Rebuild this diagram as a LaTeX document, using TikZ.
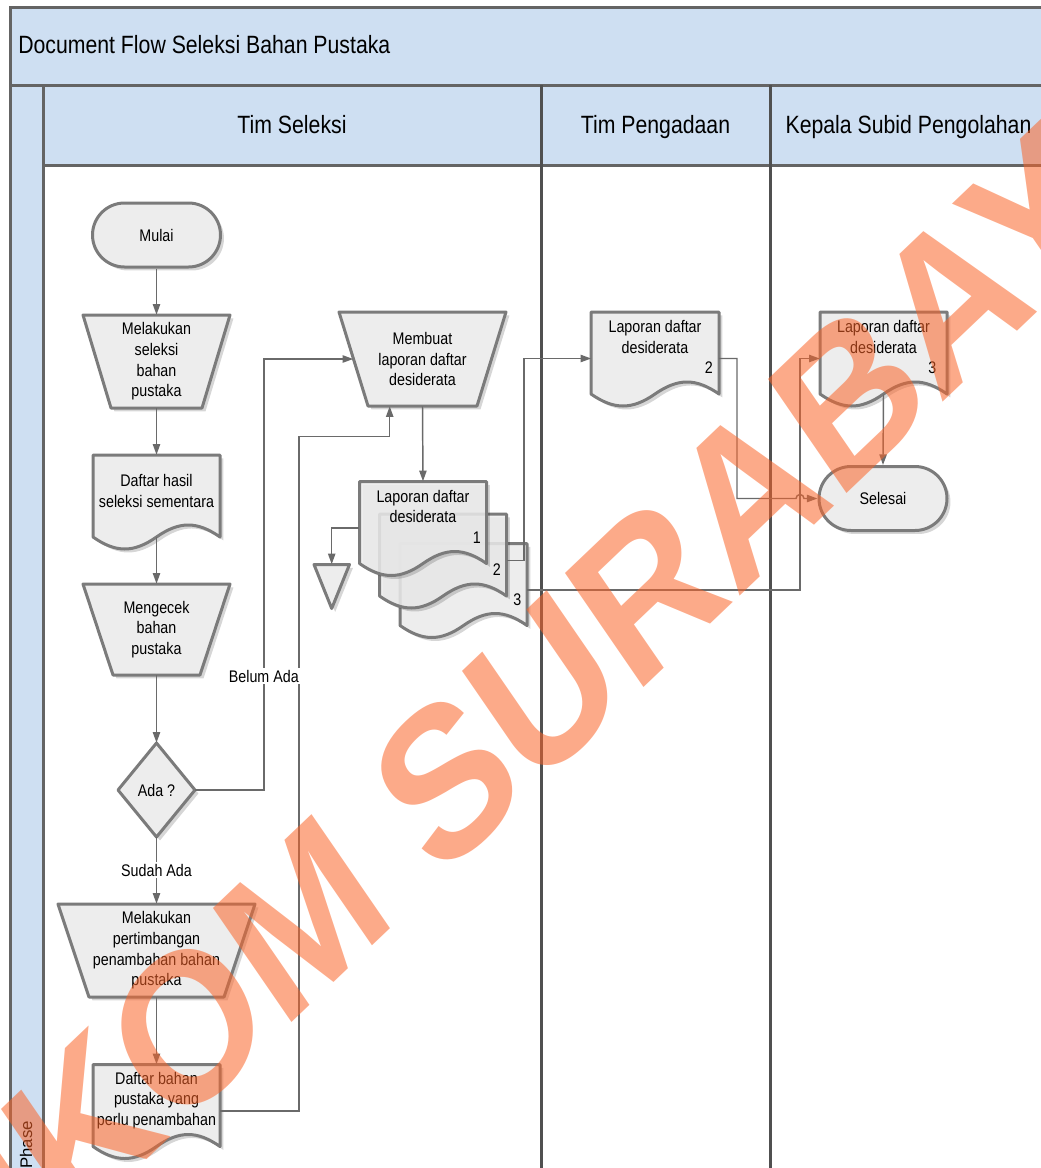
\documentclass[tikz,border=0pt]{standalone}
\usepackage{fontspec}
\setmainfont{Liberation Sans}[FakeStretch=0.85]
\newfontfamily\plainfont{Liberation Sans}
\newfontfamily\wmfamily{Liberation Sans}
\usetikzlibrary{calc,shadows,arrows.meta}
\definecolor{bandc}{RGB}{206,223,242}
\definecolor{framec}{RGB}{100,100,100}
\definecolor{lanec}{RGB}{80,80,80}
\definecolor{shpfill}{RGB}{237,237,237}
\definecolor{shpline}{RGB}{123,123,123}
\definecolor{connc}{RGB}{106,106,106}
\definecolor{wmc}{RGB}{250,100,40}
\newcommand\nodefont{\fontsize{12.6pt}{15.5pt}\selectfont}
\newcommand\headfont{\fontsize{18.75pt}{22pt}\selectfont}
\newcommand\pxu[1]{#1*0.75pt}
% trapezoid: cx, cy, top width, bottom width, height, style
\newcommand\trapz[6]{\path[#6] ({#1-#3/2},{#2-#5/2}) -- ({#1+#3/2},{#2-#5/2}) -- ({#1+#4/2},{#2+#5/2}) -- ({#1-#4/2},{#2+#5/2}) -- cycle;}
% document: left, top, width, style
\newcommand\docz[4]{\path[#4] (#1,#2) -- ({#1+#3},#2) -- ({#1+#3},{#2+82}) .. controls ({#1+0.82*#3},{#2+66}) and ({#1+0.68*#3},{#2+66}) .. ({#1+0.5*#3},{#2+82}) .. controls ({#1+0.32*#3},{#2+98}) and ({#1+0.18*#3},{#2+98}) .. (#1,{#2+82}) -- cycle;}
\begin{document}
\begin{tikzpicture}[x=0.75pt,y=-0.75pt,
  shp/.style={fill=shpfill, draw=shpline, line width=2.25pt, line join=round},
  shd/.style={drop shadow={shadow xshift=2.6pt, shadow yshift=-2.6pt, fill=black, opacity=0.16}},
  anchorbox/.style={rectangle, draw=none, fill=none, inner sep=0pt},
  txt/.style={font=\nodefont, align=center},
  docnode/.style={anchorbox, minimum width=95.25pt, minimum height=69.75pt},
  dtxt/.style={font=\nodefont, align=center, inner sep=0pt},
  numtxt/.style={font=\nodefont, inner sep=0pt},
  term/.style={shp, shd, rectangle, rounded corners=24pt, minimum width=96pt, minimum height=48pt, font=\nodefont, inner sep=0pt},
  conn/.style={draw=connc, line width=1.1pt, -{Triangle[length=8pt,width=5.5pt]}},
  lbl/.style={font=\nodefont, fill=white, inner sep=1.5pt},
  head/.style={font=\headfont, inner sep=0pt, anchor=base},
  framel/.style={draw=framec, line width=2.25pt},
  lanel/.style={draw=lanec, line width=2.25pt}]
\useasboundingbox (0,0) rectangle (1041,1168);
\clip (0,0) rectangle (1041,1168);
% ---------- pool and lanes ----------
\fill[bandc] (10,7) rectangle (1048,85);
\fill[bandc] (10,85) rectangle (43,1180);
\fill[bandc] (43,85) rectangle (1048,165);
\draw[framel] (10,1180) -- (10,7) -- (1048,7);
\draw[framel] (10,85) -- (1048,85);
\draw[framel] (43,165) -- (1048,165);
\draw[framel] (43,85) -- (43,1180);
\draw[lanel] (541,85) -- (541,1180);
\draw[lanel] (770,85) -- (770,1180);
\node[head, anchor=base west] (title) at (18,53.5) {Document Flow Seleksi Bahan Pustaka};
\node[head] (h1) at (292,133.5) {Tim Seleksi};
\node[head] (h2) at (655.5,133.5) {Tim Pengadaan};
\node[head] (h3) at (908.5,133.5) {Kepala Subid Pengolahan};
\node[font={\plainfont\nodefont}, rotate=90, anchor=base west, inner sep=0pt] (phase) at (32,1169) {Phase};
% ---------- shapes ----------
\node[term] (mulai) at (156.5,235) {Mulai};
\trapz{156.5}{361.5}{147}{91}{93}{shp,shd}
\node[anchorbox, txt, minimum width=\pxu{147}, minimum height=\pxu{93}] (sel) at (156.5,361.5) {Melakukan\\seleksi\\bahan\\pustaka};
\docz{93}{455}{127}{shp,shd}
\node[docnode, label={[dtxt, yshift=7.9pt]center:{Daftar hasil\\seleksi sementara}}] (dhasil) at (156.5,501.5) {};
\trapz{156.5}{629.5}{147}{87}{91}{shp,shd}
\node[anchorbox, txt, minimum width=\pxu{147}, minimum height=\pxu{91}] (cek) at (156.5,629.5) {Mengecek\\bahan\\pustaka};
\path[shp,shd] (156.5,743) -- (195,790) -- (156.5,837) -- (118,790) -- cycle;
\node[anchorbox, txt, minimum width=\pxu{77}, minimum height=\pxu{94}] (ada) at (156.5,790) {Ada ?};
\trapz{156.5}{950.5}{197}{135}{93}{shp,shd}
\node[anchorbox, txt, minimum width=\pxu{197}, minimum height=\pxu{93}] (pert) at (156.5,950.5) {Melakukan\\pertimbangan\\penambahan bahan\\pustaka};
\docz{93}{1064.5}{127}{shp,shd}
\node[docnode, label={[dtxt, yshift=7.9pt]center:{Daftar bahan\\pustaka yang\\perlu penambahan}}] (dbahan) at (156.5,1111) {};
\trapz{422.5}{359}{167}{109}{94}{shp,shd}
\node[anchorbox, txt, minimum width=\pxu{167}, minimum height=\pxu{94}] (membuat) at (422.5,359) {Membuat\\laporan daftar\\desiderata};
% multiple documents
\docz{400}{543.5}{127}{shp,shd}
\docz{379.5}{514}{127}{shp,shd,fill opacity=0.85}
\docz{359.5}{481.5}{127}{shp,shd,fill opacity=0.85}
\node[docnode, label={[dtxt, yshift=16.1pt]center:{Laporan daftar\\desiderata}}] (ldoc1) at (423,528) {};
\node[docnode] (ldoc2) at (443,560.5) {};
\node[docnode] (ldoc3) at (463.5,590) {};
\node[numtxt] (n1) at ($(ldoc1.north east)+(-10,56)$) {1};
\node[numtxt] (n2) at ($(ldoc2.north east)+(-10,56)$) {2};
\node[numtxt] (n3) at ($(ldoc3.north east)+(-10,56)$) {3};
\path[shp,shd] (314,564.5) -- (349.5,564.5) -- (331.7,608.5) -- cycle;
\node[anchorbox, minimum width=\pxu{35.5}, minimum height=\pxu{44}] (tri) at (331.7,586.5) {};
% Tim Pengadaan
\docz{591}{312}{128}{shp,shd}
\node[docnode, label={[dtxt, yshift=16.1pt]center:{Laporan daftar\\desiderata}}] (lap2) at (655,358.5) {};
\node[numtxt] (n4) at ($(lap2.north east)+(-10,56)$) {2};
% Kepala Subid
\docz{820}{312}{127}{shp,shd}
\node[docnode, label={[dtxt, yshift=16.1pt]center:{Laporan daftar\\desiderata}}] (lap3) at (883.5,358.5) {};
\node[numtxt] (n5) at ($(lap3.north east)+(-15,56)$) {3};
\node[term] (selesai) at (883,498.5) {Selesai};
% ---------- connectors ----------
\coordinate (belc) at (263.8,359);
\coordinate (c2a) at (299,436.4);
\coordinate (c3) at (524,358.5);
\coordinate (c4) at (800,358.5);
\coordinate (c5) at (737,498.5);
\coordinate (hopL) at (796,498.5);
\draw[conn] (mulai.south) -- (sel.north);
\draw[conn] (sel.south) -- (dhasil.north);
\draw[conn] ($(dhasil.south)+(0,-11)$) -- (cek.north);
\draw[conn] (cek.south) -- (ada.north);
\draw[conn] (ada.east) -| (belc) -- ($(membuat.west)+(14.5,0)$);
\draw[conn] (ada.south) -- (pert.north);
\draw[conn] (pert.south) -- (dbahan.north);
\draw[conn] (dbahan.east) -| (c2a) -| ($(membuat.south)+(-32.8,0)$);
\draw[conn] (membuat.south) -- (ldoc1.north);
\draw[conn] (ldoc1.west) -| (tri.north);
\draw[conn] (ldoc2.east) -| (c3) -- (lap2.west);
\draw[conn] (ldoc3.east) -| (c4) -- (lap3.west);
\draw[conn] (lap2.east) -| (c5) -- (hopL) arc[start angle=180, end angle=360, radius=4] -- (selesai.west);
\draw[conn] ($(lap3.south)+(0,-11)$) -- (selesai.north);
\node[lbl] (belum) at (263.8,676) {Belum Ada};
\node[lbl] (sudah) at (156.5,870) {Sudah Ada};
% ---------- watermark ----------
\begin{scope}[xscale=0.85]
\node[font={\wmfamily\bfseries\fontsize{160pt}{164pt}\selectfont}, text=wmc, text opacity=0.55, rotate=39, transform shape, inner sep=0pt] (wm) at (579,737) {STIKOM SURABAYA};
\end{scope}
\end{tikzpicture}
\end{document}
